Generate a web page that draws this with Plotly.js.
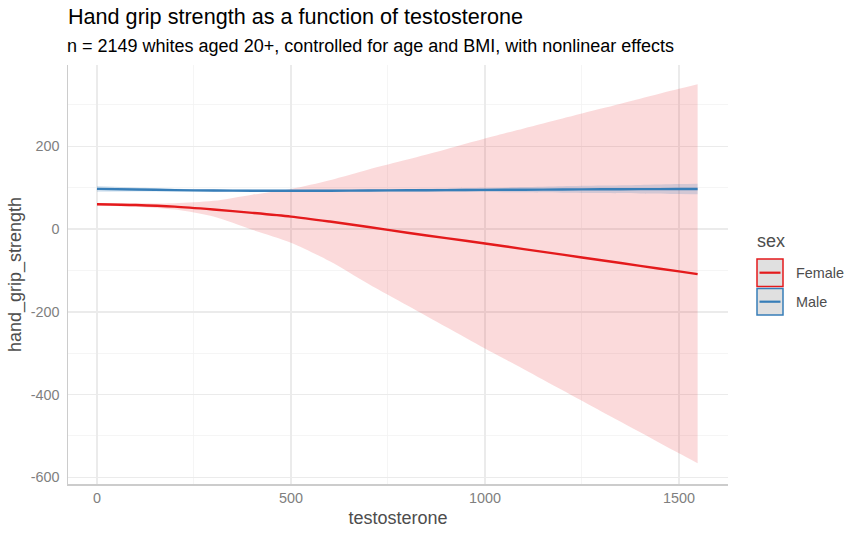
<!DOCTYPE html>
<html>
<head>
<meta charset="utf-8">
<script src="https://cdn.plot.ly/plotly-3.0.1.min.js"></script>
<style>html,body{margin:0;padding:0;background:#fff;}#chart{width:860px;height:536px;}</style>
</head>
<body>
<div id="chart"></div>
<script>
// ---- data ----
const testosterone = [0,100,200,300,400,500,600,700,800,900,1000,1100,1200,1300,1400,1500,1548];

const femaleFit   = [60,58,54,47,39,30,18,5,-9,-22,-35,-48.5,-62,-75.5,-89,-102.5,-109];
const femaleUpper = [63,62,62,68,83,97,118,144,168,193,219,243,267,291,315,339,350];
const femaleLower = [57,54,47,30,-2,-33,-78,-133,-185,-237,-289,-339,-390,-441,-491,-542,-566];

const maleFit   = [97,95.5,94,93,92.5,92.3,92.5,93,93.5,94,94.5,95,95.5,96,96.3,96.6,96.7];
const maleUpper = [104,100.5,97.5,95.8,95,94.8,95.2,96,97,98.2,99.5,101.3,103.3,105,106.6,108.6,109.5];
const maleLower = [90,90.5,90.5,90.2,90,89.8,89.8,90,90,89.8,89.5,88.7,87.7,87,86,84.6,83.9];

const xTickVals = [0,500,1000,1500];
const xTickText = ['0','500','1000','1500'];
const yTickVals = [-600,-400,-200,0,200];
const yTickText = ['-600','-400','-200','0','200'];

const seriesNames = ['Female','Male'];
const legendTitle = 'sex';

// ---- styles ----
const RED = '#E41A1C', BLUE = '#377EB8';
const FONT = 'Liberation Sans, Arial, sans-serif';
const SPL = {shape:'spline', smoothing:0.8};

const traces = [
  {x: testosterone, y: femaleLower, type:'scatter', mode:'lines', line:Object.assign({width:0}, SPL), hoverinfo:'skip', showlegend:false},
  {x: testosterone, y: femaleUpper, type:'scatter', mode:'lines', fill:'tonexty', fillcolor:'rgba(228,26,28,0.16)', line:Object.assign({width:0}, SPL), hoverinfo:'skip', showlegend:false},
  {x: testosterone, y: maleLower, type:'scatter', mode:'lines', line:Object.assign({width:0}, SPL), hoverinfo:'skip', showlegend:false},
  {x: testosterone, y: maleUpper, type:'scatter', mode:'lines', fill:'tonexty', fillcolor:'rgba(55,126,184,0.2)', line:Object.assign({width:0}, SPL), hoverinfo:'skip', showlegend:false},
  {x: testosterone, y: femaleFit, type:'scatter', mode:'lines', name: seriesNames[0], line:Object.assign({color:RED, width:2.4}, SPL), showlegend:false},
  {x: testosterone, y: maleFit, type:'scatter', mode:'lines', name: seriesNames[1], line:Object.assign({color:BLUE, width:2.4}, SPL), showlegend:false}
];

// plot area: x 68..728, y 65..484 (pixels)
const px = v => (v - 68) / 660;
const py = v => (484 - v) / 419;

const layout = {
  width: 860, height: 536,
  margin: {l:68, r:132, t:65, b:52, pad:0},
  paper_bgcolor:'#fff', plot_bgcolor:'#fff',
  font:{family:FONT},
  showlegend:false,
  title:{text:'Hand grip strength as a function of testosterone', x:68/860, xanchor:'left', xref:'container', y:1-16/536, yanchor:'middle', yref:'container', font:{size:21.6, color:'#000', family:FONT}},
  xaxis:{
    range:[-74.7,1626.3], tickvals:xTickVals, ticktext:xTickText,
    showgrid:true, gridcolor:'#EBEBEB', gridwidth:1.5,
    minor:{tickvals:[250,750,1250], showgrid:true, gridcolor:'#F3F3F3', gridwidth:0.8},
    zeroline:false, showline:true, linecolor:'#CCCCCC', linewidth:1.5, ticks:'',
    tickfont:{size:14.4, color:'#7F7F7F', family:FONT},
    title:{text:'testosterone', font:{size:18, color:'#4D4D4D', family:FONT}, standoff:6}
  },
  yaxis:{
    range:[-616.3,396.4], tickvals:yTickVals, ticktext:yTickText,
    showgrid:true, gridcolor:'#EBEBEB', gridwidth:1.5,
    minor:{tickvals:[-500,-300,-100,100,300], showgrid:true, gridcolor:'#F3F3F3', gridwidth:0.8},
    zeroline:false, showline:true, linecolor:'#CCCCCC', linewidth:1.5, ticks:'',
    tickfont:{size:14.4, color:'#7F7F7F', family:FONT},
    ticklabelstandoff:4,
    title:{text:'hand_grip_strength', font:{size:18, color:'#4D4D4D', family:FONT}, standoff:4}
  },
  annotations:[
    {text:'n = 2149 whites aged 20+, controlled for age and BMI, with nonlinear effects', xref:'paper', yref:'paper', x:0, xshift:-3, y:py(45.5), xanchor:'left', yanchor:'middle', showarrow:false, font:{size:18, color:'#000', family:FONT}},
    {text:legendTitle, xref:'paper', yref:'paper', x:px(755), y:py(241), xanchor:'left', yanchor:'middle', showarrow:false, font:{size:18, color:'#4D4D4D', family:FONT}},
    {text:seriesNames[0], xref:'paper', yref:'paper', x:px(794), y:py(273), xanchor:'left', yanchor:'middle', showarrow:false, font:{size:14.4, color:'#4D4D4D', family:FONT}},
    {text:seriesNames[1], xref:'paper', yref:'paper', x:px(794), y:py(301.5), xanchor:'left', yanchor:'middle', showarrow:false, font:{size:14.4, color:'#4D4D4D', family:FONT}}
  ],
  shapes:[
    {type:'rect', xref:'paper', yref:'paper', x0:px(757), x1:px(783), y0:py(286.5), y1:py(259), fillcolor:'#E0E0E0', line:{color:RED, width:1.5}},
    {type:'line', xref:'paper', yref:'paper', x0:px(759.5), x1:px(780.5), y0:py(272.7), y1:py(272.7), line:{color:RED, width:2.2}},
    {type:'rect', xref:'paper', yref:'paper', x0:px(757), x1:px(783), y0:py(315), y1:py(288.5), fillcolor:'#E0E0E0', line:{color:BLUE, width:1.5}},
    {type:'line', xref:'paper', yref:'paper', x0:px(759.5), x1:px(780.5), y0:py(301.7), y1:py(301.7), line:{color:BLUE, width:2.2}}
  ]
};

Plotly.newPlot('chart', traces, layout, {displayModeBar:false, staticPlot:true});
</script>
</body>
</html>
